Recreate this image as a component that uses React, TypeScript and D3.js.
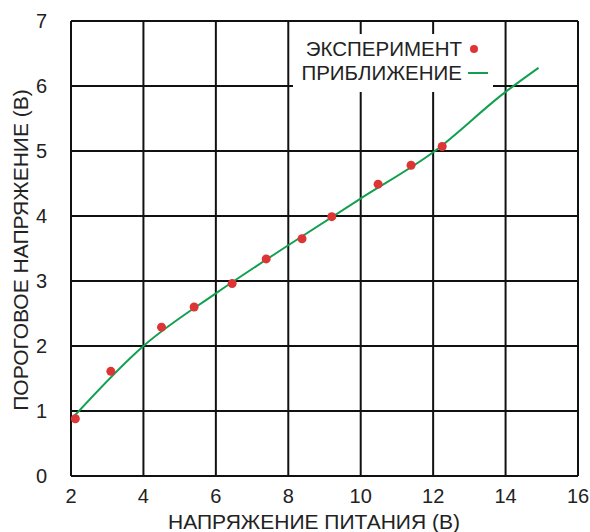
import React from "react";
import * as d3 from "d3";

const expX = [2.12, 3.1, 4.5, 5.4, 6.45, 7.39, 8.38, 9.2, 10.48, 11.39, 12.25];
const expY = [0.88, 1.61, 2.29, 2.6, 2.96, 3.34, 3.65, 3.99, 4.49, 4.78, 5.07];
const fitX = [2.02, 4, 6, 8, 10, 12, 14, 14.91];
const fitY = [0.88, 2.0, 2.81, 3.55, 4.27, 4.98, 5.91, 6.28];
const xTicks = [2, 4, 6, 8, 10, 12, 14, 16];
const yTicks = [0, 1, 2, 3, 4, 5, 6, 7];
const legendLabels = ["ЭКСПЕРИМЕНТ", "ПРИБЛИЖЕНИЕ"];
const xTitle = "НАПРЯЖЕНИЕ ПИТАНИЯ (В)";
const yTitle = "ПОРОГОВОЕ НАПРЯЖЕНИЕ (В)";

export default function App() {
  const W = 590, H = 532;
  const x = d3.scaleLinear().domain([2, 16]).range([71, 578]);
  const y = d3.scaleLinear().domain([0, 7]).range([476, 21]);
  const line = d3.line<number>().x((d, i) => x(fitX[i])).y((d, i) => y(fitY[i])).curve(d3.curveMonotoneX);
  const font = "'Liberation Sans', Arial, sans-serif";
  const red = "#dd3535";
  const green = "#12a050";
  return (
    <svg width={W} height={H} style={{ position: "absolute", left: 0, top: 0 }} fontFamily={font}>
      <rect x={0} y={0} width={W} height={H} fill="#fff" />
      {xTicks.map((t) => (
        <line key={"gx" + t} x1={x(t)} x2={x(t)} y1={y(0)} y2={y(7)} stroke="#111" strokeWidth={2} />
      ))}
      {yTicks.map((t) => (
        <line key={"gy" + t} x1={x(2)} x2={x(16)} y1={y(t)} y2={y(t)} stroke="#111" strokeWidth={2} />
      ))}
      <rect x={293} y={34} width={200} height={58} fill="#fff" />
      <path d={line(fitY) || ""} fill="none" stroke={green} strokeWidth={2} />
      {expX.map((v, i) => (
        <circle key={"p" + i} cx={x(v)} cy={y(expY[i])} r={4.5} fill={red} />
      ))}
      {xTicks.map((t) => (
        <text key={"tx" + t} x={x(t)} y={503} textAnchor="middle" fontSize={20} fill="#222">{t}</text>
      ))}
      {yTicks.map((t) => (
        <text key={"ty" + t} x={47} y={y(t) + 7} textAnchor="end" fontSize={20} fill="#222">{t}</text>
      ))}
      <text x={314} y={529} textAnchor="middle" fontSize={21} fill="#222">{xTitle}</text>
      <text transform={`translate(28,250) rotate(-90)`} textAnchor="middle" fontSize={21} fill="#222">{yTitle}</text>
      <text x={462} y={56} textAnchor="end" fontSize={20.5} fill="#222">{legendLabels[0]}</text>
      <circle cx={474} cy={49} r={4} fill={red} />
      <text x={462} y={80} textAnchor="end" fontSize={20.5} fill="#222">{legendLabels[1]}</text>
      <line x1={468} x2={488} y1={73} y2={73} stroke={green} strokeWidth={2} />
    </svg>
  );
}
